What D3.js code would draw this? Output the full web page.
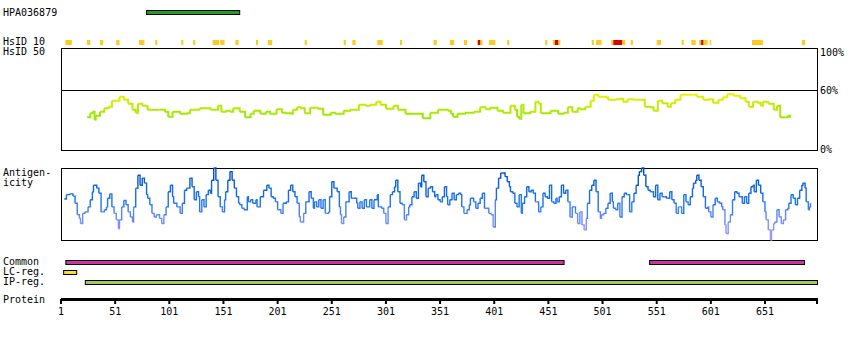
<!DOCTYPE html>
<html>
<head>
<meta charset="utf-8">
<script src="https://cdn.jsdelivr.net/npm/d3@7"></script>
<style>
  body { margin: 0; background: #fff; }
  text { font-family: "DejaVu Sans Mono", monospace; font-size: 10px; fill: #000; }
</style>
</head>
<body>
<svg id="chart" width="850" height="340"></svg>
<script>
// ---- data ----
const proteinLength = 699;
const antibodyName = "HPA036879";
const antigenRange = [80, 166];

// HsID 10 identity spans (residue start, end)
const hsid10Yellow = [
  [5,11],[25,28],[37,40],[52,55],[73,78],[88,90],[112,114],[123,125],[141,147],[148,152],
  [162,165],[181,183],[192,196],[226,228],[262,264],[270,273],[293,298],[314,316],
  [345,348],[360,364],[373,376],[385,390],[396,402],[413,415],[448,450],[455,462],
  [491,493],[495,500],[509,522],[527,529],[551,555],[574,576],[583,587],[590,598],
  [600,601],[639,649],[685,688]
];
const hsid10Red = [[386,388],[457,460],[511,519],[592,594]];

// HsID 50 similarity profile (residue, percent)
const hsid50Residues = [25,28,30,32,33,37,41,45,48,55,59,63,67,70,72,76,80,81,92,97,100,104,111,117,120,129,139,146,149,153,157,160,166,171,176,179,185,190,194,200,205,208,213,215,219,222,226,231,238,243,250,254,262,268,276,282,286,292,296,301,308,312,319,328,335,342,349,358,361,363,367,374,382,388,393,397,404,409,416,420,422,424,426,428,434,439,442,444,453,460,465,469,473,478,480,485,490,493,497,504,506,513,517,520,524,529,536,540,545,548,552,556,561,564,568,573,579,585,588,594,599,603,608,612,616,622,628,633,636,640,644,647,649,654,659,662,665,670,672,674];
const hsid50Values = [32.5,36.5,38,30,34,38,41.5,43,49,53,50,46,40,37,46,44,43,40,40,38,33,38,36,36.5,40,41.5,40,44,38,39,38,41.5,38,32.5,36,39,36,38,36,40.5,37,36.5,36,40,42.5,41.5,36.5,42,41,35,37,36,39,40,45,44,45,48,45,41,44,40,36,36,31.5,37,40,39,36,33,36,37,38,42.5,40.5,42,39,37,44,40,33,31,45,36.5,38,48,46,36.5,39,36,37,42.5,38,41.5,40.5,43,49,55,53,52.5,50,50.5,51,48,50.5,50,50,43,42.5,39,49,46.5,43,46.5,50,55,55,55,53,50,50.5,47,50,52.5,55.5,54,51.5,48,43,48,47,44,48,46,40,44,32.5,32.5,34,32];

// Antigenicity profile (residue, relative score 0-100)
const antigenResidues = [4,6,9,12,14,16,18,19,21,23,26,28,30,31,34,36,38,41,43,44,46,48,50,52,54,55,57,59,61,63,65,67,68,70,72,74,76,78,80,81,83,85,87,89,92,94,96,98,100,102,104,105,108,111,113,115,117,120,122,124,126,128,129,131,133,135,137,139,140,142,144,146,148,150,152,153,155,157,159,161,163,165,166,168,170,173,174,176,178,181,182,185,188,191,193,195,197,199,201,204,206,209,211,213,215,217,219,221,222,225,227,230,232,234,235,237,239,241,243,245,248,249,251,253,256,258,259,260,262,264,267,269,271,274,275,277,279,281,283,286,288,290,293,294,297,299,301,303,305,307,309,310,312,314,316,318,320,322,323,325,327,329,331,333,334,336,338,340,342,344,346,347,349,351,353,355,357,358,360,362,364,366,368,370,371,373,376,378,379,382,384,386,388,390,392,394,396,398,400,402,403,405,407,409,411,413,415,416,418,420,422,424,426,427,429,431,433,435,437,439,440,442,444,446,448,450,452,454,456,458,459,461,463,465,467,469,471,473,475,476,478,480,482,484,486,487,489,491,493,495,497,499,500,502,504,506,508,510,511,513,515,517,519,521,523,524,526,528,530,532,534,535,537,539,541,543,545,547,548,550,552,554,556,558,560,561,563,565,567,569,571,572,574,576,578,580,582,584,585,587,588,590,592,594,596,598,599,601,603,605,607,609,611,612,614,615,617,619,621,623,625,627,628,630,632,634,636,638,640,641,643,645,647,649,651,652,654,656,657,659,660,662,664,666,668,670,672,673,675,677,679,681,683,685,686,688,689,691,692,693];
const antigenValues = [57,63,64,61,51,35,30,23,37,39,46,56,67,76,72,65,39,42,46,58,64,46,37,28,16,28,46,55,49,39,32,25,46,72,90,76,86,79,63,58,49,37,32,35,30,23,35,46,67,76,60,51,46,37,51,69,72,86,74,56,67,60,39,56,46,63,69,65,83,100,83,60,46,39,56,67,83,95,83,72,60,51,49,44,42,60,53,56,51,56,46,60,69,76,72,60,58,53,42,37,51,53,69,76,67,60,51,32,25,37,53,67,58,44,53,46,56,44,56,37,39,60,81,72,67,46,35,23,32,53,67,58,58,51,44,53,44,56,46,56,44,56,63,46,44,37,23,46,63,67,74,83,67,51,49,28,35,46,49,60,67,58,79,74,90,81,60,72,74,67,60,63,56,53,60,74,60,49,56,65,56,63,65,63,46,37,42,49,58,53,44,51,58,65,44,44,37,35,18,56,72,86,93,93,88,81,74,67,65,51,46,63,37,51,60,74,67,69,65,53,53,39,46,65,60,58,76,53,51,58,53,60,76,65,69,53,32,46,46,37,23,39,21,14,30,51,69,76,83,67,39,30,35,37,44,51,65,53,44,42,51,32,60,65,63,63,39,53,65,76,90,95,100,90,74,69,67,67,60,76,56,65,60,60,58,58,67,56,51,37,46,46,37,63,53,49,60,72,79,83,90,83,74,60,44,46,39,32,49,58,53,51,46,42,21,9,25,35,56,67,65,60,60,51,60,51,65,74,76,67,83,76,65,53,39,28,14,0,14,23,25,42,32,23,28,42,44,51,63,58,49,58,69,76,79,72,53,42,46,51];

// Annotated regions (residue start, end)
const commonRegions = [[5,465],[544,687]];
const lcRegions = [[3,15]];
const ipRegions = [[23,699]];

// Protein axis tick labels
const proteinTicks = [1,51,101,151,201,251,301,351,401,451,501,551,601,651];
const hsid50TickLabels = [[100,"100%"],[60,"60%"],[0,"0%"]];

// ---- drawing ----
const svg = d3.select("#chart");
const x = d3.scaleLinear().domain([1, proteinLength]).range([61, 817]);
const yPct = d3.scaleLinear().domain([0, 100]).range([150, 49.5]);
const yAnt = d3.scaleLinear().domain([0, 100]).range([240, 168]);

const pctColor = d3.scaleLinear().domain([34, 55]).range(["#99e800", "#eef000"]).clamp(true);
const antColor = d3.scaleLinear().domain([0, 30, 50, 75, 100])
  .range(["#a89cff", "#6f8cff", "#2277f0", "#0a62dd", "#0046b4"]).clamp(true);

function label(txt, lx, ly, anchor) {
  svg.append("text").attr("x", lx).attr("y", ly)
    .attr("text-anchor", anchor || "start").text(txt);
}

// Antibody antigen bar
label(antibodyName, 3, 16);
svg.append("rect")
  .attr("x", x(antigenRange[0])).attr("y", 10.5)
  .attr("width", x(antigenRange[1]) - x(antigenRange[0])).attr("height", 4)
  .attr("fill", "#1f9e1f").attr("stroke", "#000").attr("stroke-width", 1);

// HsID 10 track
label("HsID 10", 3, 45);
svg.append("g").selectAll("rect").data(hsid10Yellow).join("rect")
  .attr("x", d => x(d[0])).attr("y", 40)
  .attr("width", d => Math.max(1.5, x(d[1]) - x(d[0]))).attr("height", 5)
  .attr("fill", "#fdcb1e");
svg.append("g").selectAll("rect").data(hsid10Red).join("rect")
  .attr("x", d => x(d[0])).attr("y", 40)
  .attr("width", d => Math.max(1.5, x(d[1]) - x(d[0]))).attr("height", 5)
  .attr("fill", "#dd0000");

// HsID 50 panel
label("HsID 50", 3, 55);
svg.append("rect").attr("x", 61.5).attr("y", 48.5).attr("width", 756).attr("height", 102)
  .attr("fill", "none").attr("stroke", "#000").attr("stroke-width", 1);
svg.append("line").attr("x1", 61).attr("x2", 818)
  .attr("y1", Math.round(yPct(60)) + 0.5).attr("y2", Math.round(yPct(60)) + 0.5)
  .attr("stroke", "#000").attr("stroke-width", 1);
const tickY = { 100: 56, 60: 94, 0: 153 };
hsid50TickLabels.forEach(([v, t]) => label(t, 820, tickY[v]));

const gPct = svg.append("g").attr("fill", "none").attr("stroke-width", 2);
for (let i = 0; i < hsid50Residues.length - 1; i++) {
  const x0 = x(hsid50Residues[i]), x1 = x(hsid50Residues[i + 1]);
  const y0 = yPct(hsid50Values[i]), y1 = yPct(hsid50Values[i + 1]);
  gPct.append("path").attr("d", `M${x0},${y0}H${x1}V${y1}`)
    .attr("stroke", pctColor((hsid50Values[i] + hsid50Values[i + 1]) / 2));
}

// Antigenicity panel
label("Antigen-", 3, 176);
label("icity", 3, 186);
svg.append("rect").attr("x", 61.5).attr("y", 168.5).attr("width", 756).attr("height", 72)
  .attr("fill", "none").attr("stroke", "#000").attr("stroke-width", 1);
const gAnt = svg.append("g").attr("fill", "none").attr("stroke-width", 1.4);
for (let i = 0; i < antigenResidues.length - 1; i++) {
  const x0 = x(antigenResidues[i]), x1 = x(antigenResidues[i + 1]);
  const y0 = yAnt(antigenValues[i]), y1 = yAnt(antigenValues[i + 1]);
  gAnt.append("path").attr("d", `M${x0},${y0}H${x1}V${y1}`)
    .attr("stroke", antColor((antigenValues[i] + antigenValues[i + 1]) / 2));
}

// Region bars
function regionBars(rows, yTop, fill) {
  svg.append("g").selectAll("rect").data(rows).join("rect")
    .attr("x", d => x(d[0]) + 0.5).attr("y", yTop + 0.5)
    .attr("width", d => x(d[1]) - x(d[0])).attr("height", 4)
    .attr("fill", fill).attr("stroke", "#000").attr("stroke-width", 1);
}
label("Common", 3, 265);
regionBars(commonRegions, 260, "#cc33a6");
label("LC-reg.", 3, 275);
regionBars(lcRegions, 270, "#f2e040");
label("IP-reg.", 3, 285);
regionBars(ipRegions, 280, "#a6c85c");

// Protein axis
label("Protein", 3, 303);
svg.append("line").attr("x1", 61).attr("x2", 818).attr("y1", 299.5).attr("y2", 299.5)
  .attr("stroke", "#000").attr("stroke-width", 3);
const tickVals = proteinTicks.concat([proteinLength]);
svg.append("g").selectAll("line").data(tickVals).join("line")
  .attr("x1", d => x(d)).attr("x2", d => x(d)).attr("y1", 299).attr("y2", 304)
  .attr("stroke", "#000").attr("stroke-width", 2);
svg.append("g").selectAll("text").data(proteinTicks).join("text")
  .attr("x", d => x(d)).attr("y", 315).attr("text-anchor", "middle").text(d => d);
</script>
</body>
</html>
